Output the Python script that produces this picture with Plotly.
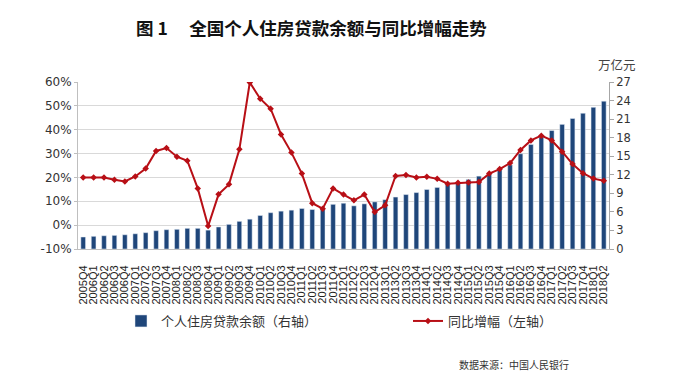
import plotly.graph_objects as go

quarters = ["2005Q4"] + [f"{y}Q{q}" for y in range(2006, 2018) for q in range(1, 5)] + ["2018Q1", "2018Q2"]

balance = [1.94, 2.05, 2.14, 2.20, 2.30, 2.46, 2.64, 2.96, 3.12, 3.18, 3.34, 3.34, 3.05,
           3.56, 3.98, 4.47, 4.82, 5.42, 5.87, 6.12, 6.28, 6.55, 6.38, 6.65, 7.22,
           7.40, 6.98, 7.30, 7.62, 7.97, 8.40, 8.80, 9.12, 9.62, 9.95, 10.45, 10.75,
           11.25, 11.78, 12.10, 12.80, 13.60, 15.40, 16.90, 18.10, 19.15, 20.15,
           21.10, 21.95, 22.90, 23.90]

growth = [20.0, 20.0, 20.0, 19.0, 18.3, 20.4, 23.7, 31.1, 32.3, 28.7, 27.0, 15.4, -0.4,
          12.9, 17.1, 31.8, 59.8, 53.0, 48.8, 38.0, 30.4, 21.6, 9.2, 6.9, 15.4,
          12.8, 10.4, 12.8, 5.5, 8.3, 20.6, 21.0, 20.0, 20.3, 19.4, 17.4, 17.8,
          17.9, 18.1, 21.6, 23.5, 26.0, 31.5, 35.5, 37.5, 35.5, 30.8, 25.6, 21.8,
          19.5, 18.6]

left_ticks = [-10, 0, 10, 20, 30, 40, 50, 60]
left_labels = [f"{v}%" for v in left_ticks]
right_ticks = [0, 3, 6, 9, 12, 15, 18, 21, 24, 27]

bar_name = "个人住房贷款余额（右轴）"
line_name = "同比增幅（左轴）"
title_text = "图 1　 全国个人住房贷款余额与同比增幅走势"
unit_text = "万亿元"
source_text = "数据来源：中国人民银行"

CJK = "Noto Sans CJK SC"
TICKF = "DejaVu Sans"
BAR_C = "#1F467A"
LINE_C = "#B80F16"

# page has an 8px body margin; figure coordinates = page coordinates - 8
OFF = 8
W, H = 686 - OFF, 377 - OFF
L, T = 78 - OFF, 82 - OFF
PLOT_R, PLOT_B = 609 - OFF, 249 - OFF
R, B = W - PLOT_R, H - PLOT_B
PW, PH = PLOT_R - L, PLOT_B - T


def px_x(x):
    return (x - OFF - L) / PW


def px_y(y):
    return (PLOT_B - (y - OFF)) / PH


fig = go.Figure()
fig.add_trace(go.Bar(x=quarters, y=balance, name=bar_name, marker_color=BAR_C,
                     yaxis="y", legend="legend"))
fig.add_trace(go.Scatter(x=quarters, y=growth, name=line_name, mode="lines+markers",
                         line=dict(color=LINE_C, width=2),
                         marker=dict(symbol="diamond", size=5, color=LINE_C),
                         yaxis="y2", legend="legend2"))

legend_common = dict(orientation="h", xref="container", yref="container",
                     xanchor="left", yanchor="middle", y=1 - (321 - OFF) / H,
                     font=dict(family=CJK, size=13, color="#333333"),
                     itemwidth=30, bgcolor="rgba(0,0,0,0)")

fig.update_layout(
    width=W, height=H,
    margin=dict(l=L, r=R, t=T, b=B, autoexpand=False),
    paper_bgcolor="white", plot_bgcolor="white",
    bargap=0.55,
    showlegend=True,
    legend=dict(x=113 / W, **legend_common),
    legend2=dict(x=400 / W, **legend_common),
    xaxis=dict(type="category", categoryorder="array", categoryarray=quarters,
               range=[-0.5, len(quarters) - 0.5], autorange=False,
               tickangle=-90, showgrid=False, dtick=1,
               tickfont=dict(family="Liberation Sans", size=11, color="#222222"),
               showline=True, linecolor="#BFBFBF", linewidth=1, ticks="",
               ticklabelstandoff=11, automargin=False),
    yaxis=dict(side="right", range=[0, 27], tickvals=right_ticks,
               showgrid=False, zeroline=False, showline=True, linecolor="#A6A6A6",
               ticks="outside", ticklen=4, tickcolor="#A6A6A6", automargin=False,
               tickfont=dict(family=TICKF, size=11.5, color="#333333")),
    yaxis2=dict(side="left", overlaying="y", range=[-10, 60], tickvals=left_ticks,
                ticktext=left_labels, showgrid=True, gridcolor="#D9D9D9", gridwidth=1,
                zeroline=False, showline=True, linecolor="#BFBFBF", automargin=False,
                ticks="outside", ticklen=3, tickcolor="#BFBFBF",
                tickfont=dict(family=TICKF, size=12, color="#333333")),
    annotations=[
        dict(text=f"<b>{title_text}</b>", xref="paper", yref="paper",
             x=px_x(311), y=px_y(28), xanchor="center", yanchor="middle",
             showarrow=False, font=dict(family=CJK, size=17.5, color="#111111")),
        dict(text=unit_text, xref="paper", yref="paper",
             x=px_x(617), y=px_y(64), xanchor="center", yanchor="middle",
             showarrow=False, font=dict(family=CJK, size=12.5, color="#444444")),
        dict(text=source_text, xref="paper", yref="paper",
             x=px_x(457), y=px_y(364), xanchor="left", yanchor="middle",
             showarrow=False, font=dict(family=CJK, size=10, color="#333333")),
    ],
)

fig.write_html("out.html")
